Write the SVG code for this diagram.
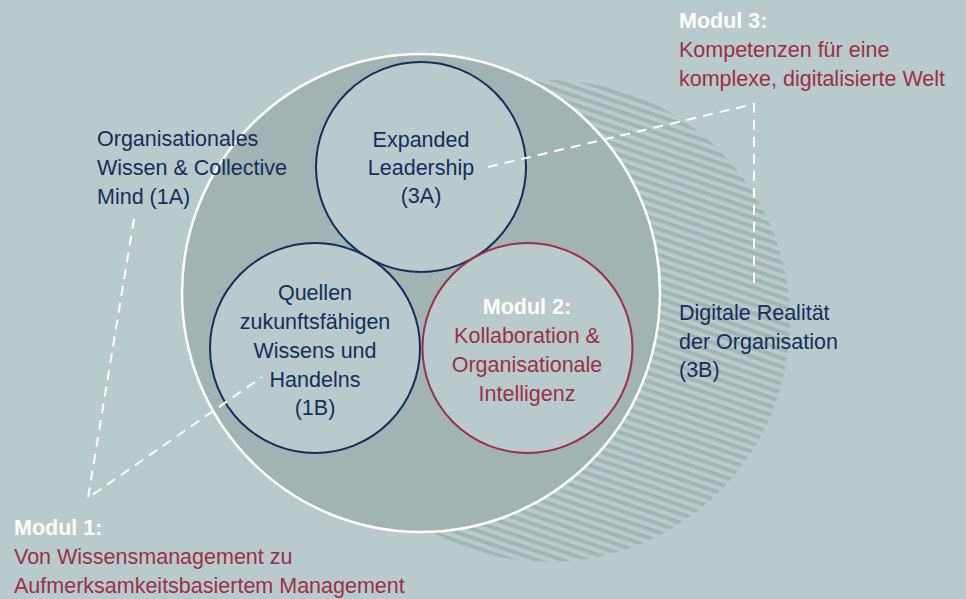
<svg xmlns="http://www.w3.org/2000/svg" width="966" height="599" viewBox="0 0 966 599">
<style>
text{font-family:"Liberation Sans",Arial,sans-serif;font-size:21.5px}
.n{fill:#152e5c}
.r{fill:#9b3049}
.w{fill:#ffffff;font-weight:bold}
.c{text-anchor:middle}
.dash{fill:none;stroke:#ffffff;stroke-width:2;stroke-dasharray:10 7}
.small{fill:#b8cacb;stroke-width:2}
</style>
<defs>
<pattern id="hatch" patternUnits="userSpaceOnUse" width="20" height="8.2" patternTransform="rotate(19)">
<rect width="20" height="8.2" fill="#b8cacb"/>
<rect width="20" height="4" fill="#a3b4b5"/>
</pattern>
</defs>
<rect width="966" height="599" fill="#b8cacb"/>
<g id="digital-reality">
<circle cx="549" cy="321" r="241" fill="url(#hatch)"/>
</g>
<g id="organisation">
<circle cx="421" cy="293" r="239" fill="#a2b3b4" stroke="#ffffff" stroke-width="2.5"/>
</g>
<g id="node-3a">
<circle class="small" cx="421" cy="167" r="105" stroke="#152e5c"/>
</g>
<g id="node-1b">
<circle class="small" cx="315" cy="348" r="105" stroke="#152e5c"/>
</g>
<g id="node-modul2">
<circle class="small" cx="527.5" cy="348" r="105" stroke="#9b3049"/>
</g>
<g id="connectors">
<polyline class="dash" points="488,167 754,104 754,290"/>
<polyline class="dash" points="134,219 88,498 262,377"/>
</g>
<g id="labels">
<text class="n c" x="421" y="147">Expanded</text>
<text class="n c" x="421" y="175">Leadership</text>
<text class="n c" x="421" y="203">(3A)</text>
<text class="n c" x="315" y="300">Quellen</text>
<text class="n c" x="315" y="329">zukunftsfähigen</text>
<text class="n c" x="315" y="358">Wissens und</text>
<text class="n c" x="315" y="387">Handelns</text>
<text class="n c" x="315" y="415">(1B)</text>
<text class="w c" x="527" y="314">Modul 2:</text>
<text class="r c" x="527" y="343">Kollaboration &amp;</text>
<text class="r c" x="527" y="372">Organisationale</text>
<text class="r c" x="527" y="401">Intelligenz</text>
<text class="n" x="97" y="146">Organisationales</text>
<text class="n" x="97" y="175">Wissen &amp; Collective</text>
<text class="n" x="97" y="204">Mind (1A)</text>
<text class="n" x="679" y="320">Digitale Realität</text>
<text class="n" x="679" y="349">der Organisation</text>
<text class="n" x="679" y="377">(3B)</text>
<text class="w" x="679" y="28">Modul 3:</text>
<text class="r" x="679" y="57">Kompetenzen für eine</text>
<text class="r" x="679" y="86">komplexe, digitalisierte Welt</text>
<text class="w" x="14" y="535">Modul 1:</text>
<text class="r" x="14" y="564">Von Wissensmanagement zu</text>
<text class="r" x="14" y="593">Aufmerksamkeitsbasiertem Management</text>
</g>
</svg>
